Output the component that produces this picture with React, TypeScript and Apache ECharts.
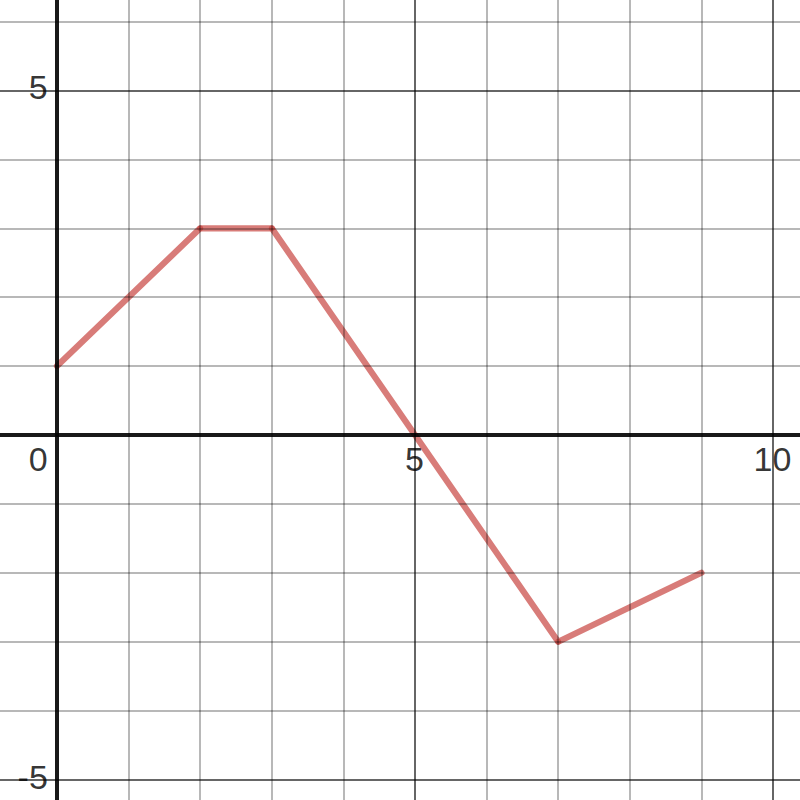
import React, { useEffect, useRef } from "react";
import * as echarts from "echarts";

// Data
const xPoints = [0, 2, 3, 7, 9];
const yPoints = [1, 3, 3, -3, -2];

// Grid lines
const xMinorTicks = [1, 2, 3, 4, 6, 7, 8, 9];
const xMajorTicks = [5, 10];
const yMinorTicks = [6, 4, 3, 2, 1, -1, -2, -3, -4];
const yMajorTicks = [5, -5];

// Tick labels
const xTickValues = [0, 5, 10];
const xTickLabels = ["0", "5", "10"];
const yTickValues = [5, -5];
const yTickLabels = ["5", "-5"];

// Visible window
const X_MIN = -0.796;
const X_MAX = 10.377;
const Y_MIN = -5.297;
const Y_MAX = 6.313;

const FONT = '"Liberation Sans", Arial, sans-serif';

export default function App() {
  const ref = useRef<HTMLDivElement>(null);

  useEffect(() => {
    document.body.style.margin = "0";
    if (!ref.current) return;
    const chart = echarts.init(ref.current, undefined, { renderer: "svg" });

    const minorStyle = { color: "rgba(0,0,0,0.28)", width: 2, type: "solid" as const };
    const majorStyle = { color: "rgba(0,0,0,0.6)", width: 2, type: "solid" as const };
    const axisStyle = { color: "rgba(0,0,0,0.9)", width: 4, type: "solid" as const };

    const gridLines = [
      ...xMinorTicks.map((v) => ({ xAxis: v, lineStyle: minorStyle })),
      ...yMinorTicks.map((v) => ({ yAxis: v, lineStyle: minorStyle })),
      ...xMajorTicks.map((v) => ({ xAxis: v, lineStyle: majorStyle })),
      ...yMajorTicks.map((v) => ({ yAxis: v, lineStyle: majorStyle })),
    ];

    const baseLabel = {
      show: true,
      formatter: "{b}",
      color: "#000",
      fontSize: 34,
      fontFamily: FONT,
      textBorderColor: "#fff",
      textBorderWidth: 5,
      verticalAlign: "middle" as const,
    };

    const labelData = [
      ...xTickValues.map((v, i) => ({
        name: xTickLabels[i],
        value: [v, 0],
        label:
          v === 0
            ? { ...baseLabel, align: "right" as const, position: [-8.7, 24.5] }
            : { ...baseLabel, align: "center" as const, position: [0, 24.5] },
      })),
      ...yTickValues.map((v, i) => ({
        name: yTickLabels[i],
        value: [0, v],
        label: { ...baseLabel, align: "right" as const, position: [-8.7, -2.5] },
      })),
    ];

    const lineData = xPoints.map((x, i) => ({
      value: [x, yPoints[i]],
      symbol: i === 0 || i === xPoints.length - 1 ? "none" : "circle",
    }));

    chart.setOption({
      animation: false,
      backgroundColor: "#fff",
      grid: { left: 0, right: 0, top: 0, bottom: 0 },
      xAxis: { type: "value", min: X_MIN, max: X_MAX, show: false },
      yAxis: { type: "value", min: Y_MIN, max: Y_MAX, show: false },
      series: [
        {
          type: "line",
          data: [],
          z: 1,
          silent: true,
          markLine: {
            silent: true,
            symbol: ["none", "none"],
            label: { show: false },
            data: gridLines,
          },
        },
        {
          type: "line",
          data: [],
          z: 2,
          silent: true,
          markLine: {
            silent: true,
            symbol: ["none", "none"],
            label: { show: false },
            data: [
              { xAxis: 0, lineStyle: axisStyle },
              { yAxis: 0, lineStyle: axisStyle },
            ],
          },
        },
        {
          type: "scatter",
          z: 3,
          silent: true,
          symbolSize: 1,
          itemStyle: { color: "transparent" },
          data: labelData,
        },
        {
          type: "line",
          z: 4,
          data: lineData,
          symbolSize: 6,
          showSymbol: true,
          itemStyle: { color: "#c74440", opacity: 0.7 },
          lineStyle: {
            color: "#c74440",
            opacity: 0.7,
            width: 6.2,
            cap: "round",
            join: "round",
          },
        },
      ],
    });

    return () => chart.dispose();
  }, []);

  return <div ref={ref} style={{ width: 800, height: 800 }} />;
}
